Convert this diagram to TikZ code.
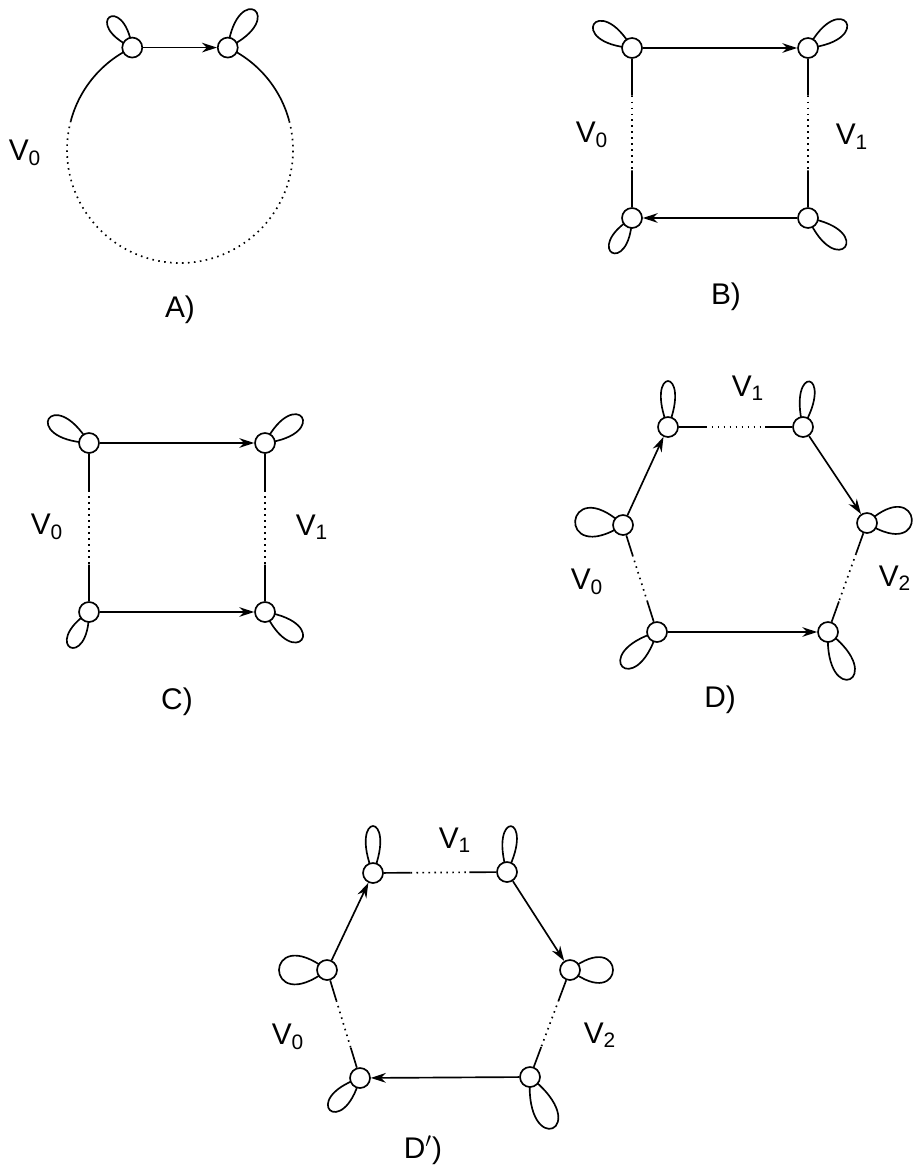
\documentclass[tikz,border=0pt]{standalone}
\usepackage{fontspec}
\setmainfont{Liberation Sans}
\usetikzlibrary{positioning,calc,arrows.meta,backgrounds}

\tikzset{
  atom/.style={draw,circle,fill=white,minimum size=0.4cm,inner sep=0pt,line width=0.95pt},
  bond/.style={line width=0.95pt},
  arr/.style={bond,-{Stealth[length=8.5pt,width=5.5pt]}},
  dotbond/.style={line width=0.95pt,dash pattern=on 0.9pt off 2.5pt},
  lbl/.style={font=\fontsize{17}{20}\selectfont},
}
% lobe: [half angle]{node}{direction}{length}
\newcommand\lobe[4][28]{%
  \begin{pgfonlayer}{background}
  \draw[bond] (#2.center) .. controls +({#3-#1}:{#4/(0.75*cos(#1))}) and +({#3+#1}:{#4/(0.75*cos(#1))}) .. (#2.center);
  \end{pgfonlayer}}
% solid - dotted - solid link
\newcommand\mixlink[2]{%
  \draw[bond] (#1) -- ($(#1)!0.28!(#2)$);
  \draw[dotbond] ($(#1)!0.28!(#2)$) -- ($(#1)!0.72!(#2)$);
  \draw[bond] ($(#1)!0.72!(#2)$) -- (#2);}

\begin{document}
\begin{tikzpicture}[x=0.02cm,y=0.02cm]
    \useasboundingbox (0,0) rectangle (914,-1166);

    % Panel A
    \coordinate (cA) at (180,-150);
    \draw[bond] ($(cA)+(115:113)$) arc[start angle=115,end angle=165,radius=113];
    \draw[dotbond] ($(cA)+(165:113)$) arc[start angle=165,end angle=375,radius=113];
    \draw[bond] ($(cA)+(15:113)$) arc[start angle=15,end angle=65,radius=113];
    \node[atom] (a1) at ($(cA)+(115:113)$) {};
    \node[atom] (a2) at ($(cA)+(65:113)$) {};
    \draw[arr] (a1) -- (a2);
    \lobe{a1}{127}{38}
    \lobe{a2}{54}{46}
    \node[lbl] (av0) at (25,-153) {V\textsubscript{0}};
    \node[lbl] (aname) at (180,-310) {A)};

    % Panel B
    \node[atom] (b1) at (632,-48) {};
    \node[atom] (b2) at (808,-48) {};
    \node[atom] (b3) at (808,-218) {};
    \node[atom] (b4) at (632,-218) {};
    \draw[arr] (b1) -- (b2);
    \draw[arr] (b3) -- (b4);
    \mixlink{b1}{b4}
    \mixlink{b2}{b3}
    \lobe{b1}{148}{45}
    \lobe{b2}{34}{46}
    \lobe{b3}{-38}{47}
    \lobe{b4}{240}{40}
    \node[lbl] (bv0) at (592,-135) {V\textsubscript{0}};
    \node[lbl] (bv1) at (852,-137) {V\textsubscript{1}};
    \node[lbl] (bname) at (726,-297) {B)};

    % Panel C
    \node[atom] (c1) at (89,-443) {};
    \node[atom] (c2) at (265,-443) {};
    \node[atom] (c3) at (265,-612) {};
    \node[atom] (c4) at (89,-612) {};
    \draw[arr] (c1) -- (c2);
    \draw[arr] (c4) -- (c3);
    \mixlink{c1}{c4}
    \mixlink{c2}{c3}
    \lobe{c1}{149}{47}
    \lobe{c2}{35}{45}
    \lobe{c3}{-37}{46}
    \lobe{c4}{242}{40}
    \node[lbl] (cv0) at (47,-527) {V\textsubscript{0}};
    \node[lbl] (cv1) at (312,-527) {V\textsubscript{1}};
    \node[lbl] (cname) at (177,-702) {C)};

    % Panel D
    \node[atom] (d1) at (668,-427) {};
    \node[atom] (d2) at (803,-427) {};
    \node[atom] (d3) at (867,-523) {};
    \node[atom] (d4) at (828,-632) {};
    \node[atom] (d5) at (657,-632) {};
    \node[atom] (d6) at (623,-525) {};
    \draw[arr] (d6) -- (d1);
    \draw[arr] (d2) -- (d3);
    \draw[arr] (d5) -- (d4);
    \mixlink{d1}{d2}
    \mixlink{d6}{d5}
    \mixlink{d3}{d4}
    \lobe[22]{d1}{90}{46}
    \lobe[22]{d2}{82}{46}
    \lobe[38]{d3}{5}{45}
    \lobe{d4}{295}{52}
    \lobe{d5}{225}{49}
    \lobe[38]{d6}{175}{48}
    \node[lbl] (dv1) at (748,-388) {V\textsubscript{1}};
    \node[lbl] (dv0) at (587,-582) {V\textsubscript{0}};
    \node[lbl] (dv2) at (895,-578) {V\textsubscript{2}};
    \node[lbl] (dname) at (720,-700) {D)};

    % Panel D'
    \node[atom] (e1) at (373,-873) {};
    \node[atom] (e2) at (507,-872) {};
    \node[atom] (e3) at (570,-970) {};
    \node[atom] (e4) at (530,-1077) {};
    \node[atom] (e5) at (360,-1078) {};
    \node[atom] (e6) at (327,-970) {};
    \draw[arr] (e6) -- (e1);
    \draw[arr] (e2) -- (e3);
    \draw[arr] (e4) -- (e5);
    \mixlink{e1}{e2}
    \mixlink{e6}{e5}
    \mixlink{e3}{e4}
    \lobe[22]{e1}{90}{47}
    \lobe[22]{e2}{85}{46}
    \lobe[38]{e3}{0}{43}
    \lobe{e4}{294}{56}
    \lobe{e5}{227}{44}
    \lobe[38]{e6}{180}{48}
    \node[lbl] (ev1) at (455,-840) {V\textsubscript{1}};
    \node[lbl] (ev0) at (288,-1037) {V\textsubscript{0}};
    \node[lbl] (ev2) at (600,-1035) {V\textsubscript{2}};
    \node[lbl] (ename) at (423,-1150) {D$'$)};
\end{tikzpicture}
\end{document}
